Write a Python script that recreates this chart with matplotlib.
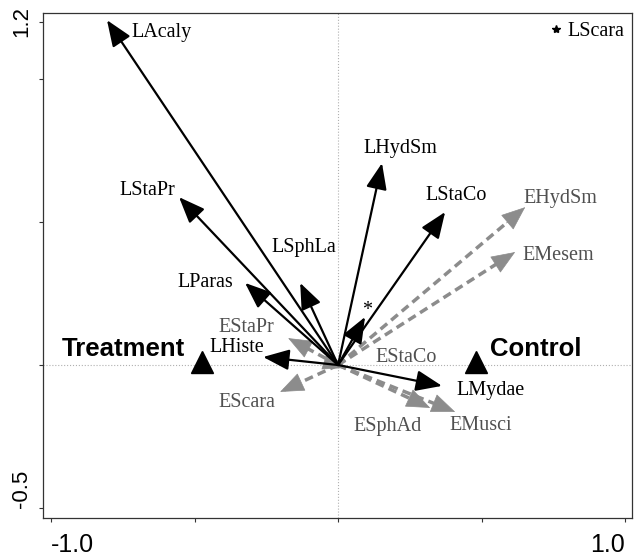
import matplotlib
matplotlib.use("Agg")
import matplotlib.pyplot as plt

# black (L) vectors
l_names = ["LAcaly", "LStaPr", "LSphLa", "LParas", "LHiste", "LHydSm", "LStaCo", "LMydae", "*"]
l_x = [-0.805, -0.554, -0.132, -0.324, -0.261, 0.153, 0.373, 0.362, 0.094]
l_y = [1.206, 0.587, 0.287, 0.287, 0.028, 0.706, 0.535, -0.073, 0.168]

# gray dashed (E) vectors
e_names = ["EHydSm", "EMesem", "EStaPr", "EScara", "EMusci", "ESphAd", "EStaCo"]
e_x = [0.652, 0.617, -0.174, -0.202, 0.408, 0.321, 0.03]
e_y = [0.552, 0.395, 0.094, -0.094, -0.164, -0.150, -0.01]

# treatment centroids
groups = ["Treatment", "Control"]
grp_x = [-0.474, 0.481]
grp_y = [0.01, 0.01]

# extra species point
pt_name = "LScara"
pt_x = 0.76
pt_y = 1.175

# label offsets in pixels (layout only)
l_off = [(55, -12), (-32, 7), (4, 35), (-40, 0), (-26, 10), (18, 15), (11, 17), (49, -5), (2, 6)]
e_off = [(35, 9), (43, -3), (-42, 11), (-33, -11), (26, -14), (-43, -19), (59, 10)]

BLACK = "black"
GRAY = "#8c8c8c"
GRAY_TXT = "#505050"
serif = ["Liberation Serif", "DejaVu Serif"]
sans = ["Liberation Sans", "DejaVu Sans"]
head = "-|>,head_length=0.8,head_width=0.32"

fig = plt.figure(figsize=(6.35, 5.56), dpi=100)
ax = fig.add_axes([43 / 635, 1 - 518 / 556, 589 / 635, 505 / 556])
ax.set_xlim(-1.028, 1.024)
ax.set_ylim(-0.535, 1.231)

ax.axhline(0, color="#b0b0b0", lw=0.8, ls=":", zorder=0)
ax.axvline(0, color="#b0b0b0", lw=0.8, ls=":", zorder=0)

# gray dashed arrows
for name, x, y, off in zip(e_names, e_x, e_y, e_off):
    ax.plot([0, x * 0.93], [0, y * 0.93], color=GRAY, lw=2.5, ls=(0, (2.5, 1.5)), zorder=2)
    ax.annotate("", xy=(x, y), xytext=(x * 0.9, y * 0.9),
                arrowprops=dict(arrowstyle=head, mutation_scale=20, lw=0.5,
                                color=GRAY, shrinkA=0, shrinkB=0), zorder=2)
    ax.annotate(name, xy=(x, y), xytext=off, textcoords="offset pixels",
                ha="center", va="center", fontsize=14.5, family=serif, color=GRAY_TXT)

# black arrows
for name, x, y, off in zip(l_names, l_x, l_y, l_off):
    ax.annotate("", xy=(x, y), xytext=(0, 0),
                arrowprops=dict(arrowstyle=head, mutation_scale=20, lw=1.6,
                                color=BLACK, shrinkA=0, shrinkB=0), zorder=3)
    ax.annotate(name, xy=(x, y), xytext=off, textcoords="offset pixels",
                ha="center", va="center", fontsize=14.5, family=serif, color=BLACK)

# centroids
ax.plot(grp_x, grp_y, ls="none", marker="^", ms=16, color="black", zorder=4)
ax.annotate(groups[0], xy=(grp_x[0], grp_y[0]), xytext=(-17, 13), textcoords="offset pixels",
            ha="right", va="center", fontsize=18.5, fontweight="bold", family=sans)
ax.annotate(groups[1], xy=(grp_x[1], grp_y[1]), xytext=(14, 13), textcoords="offset pixels",
            ha="left", va="center", fontsize=18.5, fontweight="bold", family=sans)

# LScara
ax.plot([pt_x], [pt_y], ls="none", marker="*", ms=6, color="black")
ax.annotate(pt_name, xy=(pt_x, pt_y), xytext=(11, -2), textcoords="offset pixels",
            ha="left", va="center", fontsize=14.5, family=serif)

ax.set_xticks([-1.0, -0.5, 0, 0.5, 1.0])
ax.set_xticklabels(["-1.0", "", "", "", "1.0"])
ax.set_yticks([-0.5, 0, 0.5, 1.0, 1.2])
ax.set_yticklabels(["-0.5", "", "", "", "1.2"], rotation=90, va="center")
ax.tick_params(direction="out", length=3, width=0.8, colors="#333333")
ax.tick_params(axis="x", labelsize=18, pad=8)
ax.tick_params(axis="y", labelsize=16, pad=5)
for lab in ax.get_xticklabels() + ax.get_yticklabels():
    lab.set_family(sans)
    lab.set_color("black")
xl = ax.get_xticklabels()
xl[0].set_ha("left")
xl[-1].set_ha("right")
ax.get_yticklabels()[0].set_va("bottom")
for s in ax.spines.values():
    s.set_linewidth(0.9)
    s.set_color("#333333")

fig.savefig("out.png", dpi=100)
